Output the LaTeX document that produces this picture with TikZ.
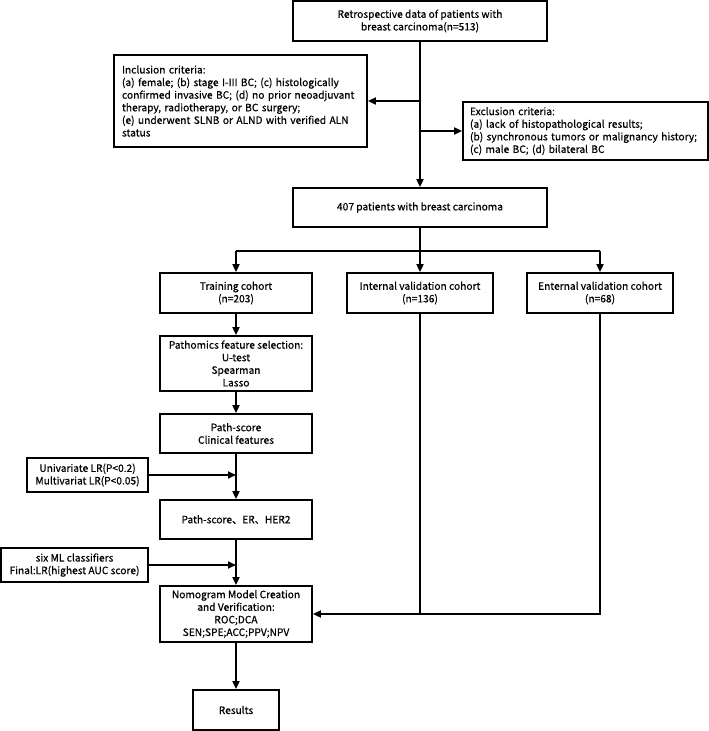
\documentclass[tikz,border=0pt]{standalone}
\usepackage{fontspec}
\setmainfont{Noto Sans CJK SC}[UprightFeatures={FakeBold=0.6}]
\usetikzlibrary{arrows.meta}
\begin{document}
\begin{tikzpicture}[x=1pt,y=-1pt,
  box/.style={draw=black,line width=1.8pt,inner sep=0pt,align=center,
    font=\fontsize{10.2}{12.6}\selectfont},
  conn/.style={line width=1.8pt},
  arr/.style={conn,-{Triangle[length=8pt,width=7pt]}}]
\useasboundingbox (0,0) rectangle (709,731);
\node[box,minimum width=254pt,minimum height=40pt] (top) at (420,21)
  {Retrospective data of patients with\\breast carcinoma(n=513)};
\node[box,align=left,text width=237pt,inner xsep=8pt,minimum height=92pt] (incl) at (240.5,101)
  {Inclusion criteria:\\(a) female; (b) stage I-III BC; (c) histologically\\confirmed invasive BC; (d) no prior neoadjuvant\\therapy, radiotherapy, or BC surgery;\\(e) underwent SLNB or ALND with verified ALN\\status};
\node[box,align=left,text width=231pt,inner xsep=7pt,minimum height=58pt] (excl) at (585.5,131)
  {Exclusion criteria:\\(a) lack of histopathological results;\\(b) synchronous tumors or malignancy history;\\(c) male BC; (d) bilateral BC};
\node[box,minimum width=254pt,minimum height=39pt] (p407) at (420,207.5)
  {407 patients with breast carcinoma};
\node[box,minimum width=152pt,minimum height=40pt] (train) at (236,293)
  {Training cohort\\(n=203)};
\node[box,minimum width=146pt,minimum height=40pt] (intern) at (420,293)
  {Internal validation cohort\\(n=136)};
\node[box,minimum width=146pt,minimum height=40pt] (extern) at (600,293)
  {Enternal validation cohort\\(n=68)};
\node[box,minimum width=152pt,minimum height=55pt] (patho) at (236,363.5)
  {Pathomics feature selection:\\U-test\\Spearman\\Lasso};
\node[box,minimum width=152pt,minimum height=39pt] (pscore) at (236,433.5)
  {Path-score\\Clinical features};
\node[box,minimum width=121pt,minimum height=34pt] (uni) at (87.5,475)
  {Univariate LR(P<0.2)\\Multivariat LR(P<0.05)};
\node[box,minimum width=152pt,minimum height=39pt] (per) at (236,519.5)
  {Path-score、ER、HER2};
\node[box,minimum width=147pt,minimum height=34pt] (ml) at (74.5,565)
  {six ML classifiers\\Final:LR(highest AUC score)};
\node[box,minimum width=152pt,minimum height=56pt] (nomo) at (236,614)
  {Nomogram Model Creation\\and Verification:\\ROC;DCA\\SEN;SPE;ACC;PPV;NPV};
\node[box,minimum width=86pt,minimum height=40pt] (res) at (236,710)
  {Results};
% coordinates
\coordinate (jin) at (top.south |- incl.east);
\coordinate (jex) at (top.south |- excl.west);
\coordinate (br) at (420,251);
\coordinate (brl) at (train.north |- br);
\coordinate (brr) at (extern.north |- br);
\coordinate (juni) at (pscore.south |- uni.east);
\coordinate (jml) at (per.south |- ml.east);
\coordinate (jint) at (intern.south |- nomo.east);
\coordinate (jext) at (extern.south |- nomo.east);
% connectors
\draw[arr] (top.south) -- (p407.north);
\draw[arr] (jin) -- (incl.east);
\draw[arr] (jex) -- (excl.west);
\draw[conn] (p407.south) -- (br);
\draw[arr] (br) -- (intern.north);
\draw[conn] (brl) -- (brr);
\draw[arr] (brl) -- (train.north);
\draw[arr] (brr) -- (extern.north);
\draw[arr] (train.south) -- (patho.north);
\draw[arr] (patho.south) -- (pscore.north);
\draw[arr] (pscore.south) -- (per.north);
\draw[arr] (uni.east) -- (juni);
\draw[arr] (per.south) -- (nomo.north);
\draw[arr] (ml.east) -- (jml);
\draw[conn] (intern.south) -- (jint);
\draw[conn] (extern.south) -- (jext) -- (jint);
\draw[arr] (jint) -- (nomo.east);
\draw[arr] (nomo.south) -- (res.north);
\end{tikzpicture}
\end{document}
